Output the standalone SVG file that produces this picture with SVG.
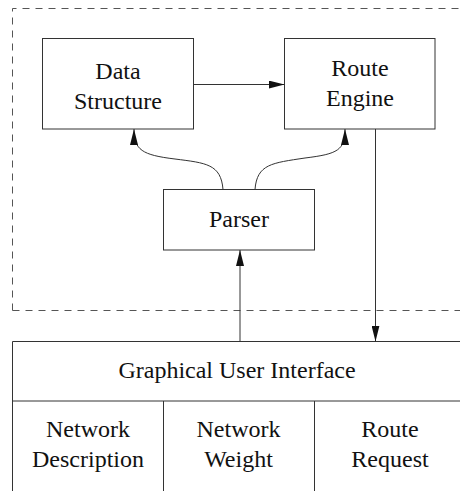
<svg xmlns="http://www.w3.org/2000/svg" width="460" height="491" viewBox="0 0 460 491">
  <style>
    .box { fill: #fff; stroke: #333; stroke-width: 1; }
    .frame { fill: none; stroke: #555; stroke-width: 1; stroke-dasharray: 7 6; }
    .edge { fill: none; stroke: #333; stroke-width: 1; }
    .lbl { font-family: "Liberation Serif", "Times New Roman", serif; font-size: 24px; fill: #111; text-anchor: middle; }
  </style>
  <defs>
    <marker id="arrow" markerUnits="userSpaceOnUse" markerWidth="16" markerHeight="8" refX="16" refY="4" orient="auto">
      <path d="M0,0 L16,4 L0,8 z" fill="#111"/>
    </marker>
  </defs>
  <rect width="460" height="491" fill="#fff"/>

  <!-- dashed subsystem boundary -->
  <g id="boundary">
    <path class="frame" d="M12.5,310.5 L12.5,8.5 L462,8.5"/>
    <path class="frame" d="M12.5,310.5 L462,310.5"/>
  </g>

  <g id="data-structure">
    <rect class="box" x="42.5" y="38.5" width="151" height="90.5"/>
    <text class="lbl" x="118" y="79">Data</text>
    <text class="lbl" x="118" y="109">Structure</text>
  </g>

  <g id="route-engine">
    <rect class="box" x="284.5" y="38.5" width="150.5" height="90.5"/>
    <text class="lbl" x="360" y="76">Route</text>
    <text class="lbl" x="360" y="106">Engine</text>
  </g>

  <g id="parser">
    <rect class="box" x="163.5" y="189.5" width="151" height="60.5"/>
    <text class="lbl" x="239" y="227">Parser</text>
  </g>

  <g id="gui">
    <path class="edge" d="M12.5,491 L12.5,341.5 L462,341.5"/>
    <path class="edge" d="M12.5,401 L462,401"/>
    <path class="edge" d="M163.5,401 L163.5,491 M314.5,401 L314.5,491"/>
    <text class="lbl" x="237" y="378">Graphical User Interface</text>
    <text class="lbl" x="88" y="437">Network</text>
    <text class="lbl" x="88" y="467">Description</text>
    <text class="lbl" x="238.5" y="437">Network</text>
    <text class="lbl" x="238.5" y="467">Weight</text>
    <text class="lbl" x="390" y="437">Route</text>
    <text class="lbl" x="390" y="467">Request</text>
  </g>

  <g id="connectors">
    <path class="edge" d="M194,84.5 L284.5,84.5" marker-end="url(#arrow)"/>
    <path class="edge" d="M223,189.5 C221,164 206,163 175,159 C142,155 134,150 134,129" marker-end="url(#arrow)"/>
    <path class="edge" d="M255,189.5 C257,164 272,163 305,158 C338,154 345,150 345,129" marker-end="url(#arrow)"/>
    <path class="edge" d="M375.5,129 L375.5,341.5" marker-end="url(#arrow)"/>
    <path class="edge" d="M240,341.5 L240,250" marker-end="url(#arrow)"/>
  </g>
</svg>
